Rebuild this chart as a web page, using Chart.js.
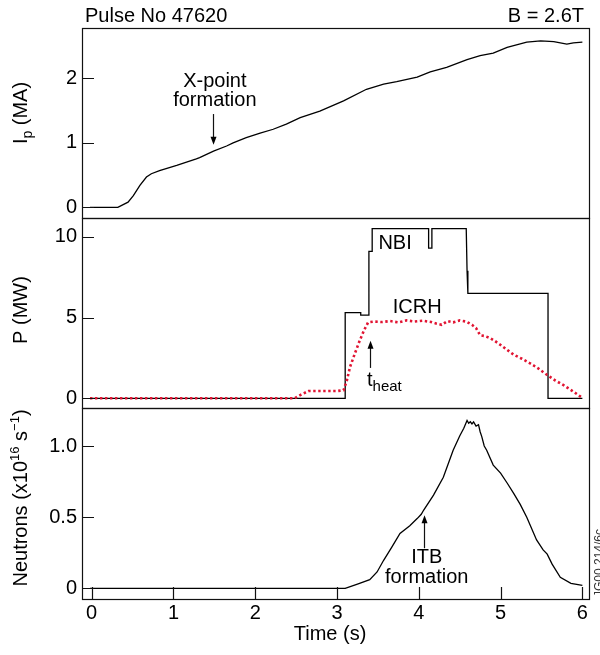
<!DOCTYPE html>
<html><head><meta charset="utf-8">
<script src="https://cdn.jsdelivr.net/npm/chart.js@4.4.1/dist/chart.umd.min.js"></script>
<style>
html,body{margin:0;padding:0;background:#fff;}
#wrap{position:relative;width:600px;height:655px;overflow:hidden;background:#fff;}
canvas{position:absolute;left:0;top:0;}
</style></head><body>
<div id="wrap">
<canvas id="c1" width="600" height="655"></canvas>
<canvas id="c2" width="600" height="655"></canvas>
<canvas id="c3" width="600" height="655"></canvas>
</div>
<script>
// ---------------- data ----------------
const ipTime  = [-0.02, 0.32, 0.445, 0.51, 0.59, 0.67, 0.73, 0.83, 0.91, 1.04, 1.16, 1.28, 1.32, 1.49, 1.65, 1.73, 1.89, 2.06, 2.22, 2.38, 2.55, 2.79, 3.08, 3.36, 3.57, 3.73, 3.98, 4.14, 4.34, 4.59, 4.75, 4.91, 5.08, 5.32, 5.49, 5.65, 5.81, 5.89, 6.0];
const ipValue = [0, 0, 0.08, 0.18, 0.34, 0.47, 0.52, 0.57, 0.6, 0.65, 0.70, 0.75, 0.77, 0.87, 0.95, 1.0, 1.08, 1.15, 1.21, 1.29, 1.39, 1.49, 1.65, 1.83, 1.91, 1.95, 2.02, 2.10, 2.17, 2.29, 2.35, 2.39, 2.48, 2.56, 2.58, 2.57, 2.53, 2.55, 2.56];

const nbiTime  = [-0.02, 3.1, 3.1, 3.29, 3.29, 3.39, 3.39, 3.43, 3.43, 4.12, 4.12, 4.16, 4.16, 4.58, 4.59, 4.60, 5.58, 5.58, 6.0];
const nbiPower = [0, 0, 5.3, 5.3, 5.15, 5.15, 9.1, 9.1, 10.5, 10.5, 9.3, 9.3, 10.5, 10.5, 7.9, 6.5, 6.5, 0, 0];

const icrhTime  = [-0.02, 2.48, 2.55, 2.65, 2.8, 3.0, 3.08, 3.12, 3.16, 3.22, 3.28, 3.33, 3.38, 3.45, 3.55, 3.65, 3.75, 3.85, 3.95, 4.05, 4.15, 4.22, 4.28, 4.35, 4.42, 4.5, 4.58, 4.65, 4.7, 4.75, 4.81, 4.87, 4.93, 5.0, 5.08, 5.16, 5.26, 5.36, 5.46, 5.57, 5.67, 5.77, 5.88, 6.0];
const icrhPower = [0, 0, 0.2, 0.45, 0.45, 0.45, 0.5, 1.1, 1.95, 2.8, 3.6, 4.2, 4.7, 4.75, 4.72, 4.78, 4.7, 4.82, 4.75, 4.8, 4.72, 4.62, 4.55, 4.78, 4.7, 4.82, 4.75, 4.55, 4.35, 3.9, 3.85, 3.73, 3.55, 3.3, 3.0, 2.7, 2.45, 2.17, 1.85, 1.44, 1.1, 0.81, 0.45, 0.02];

const neutronTime = [-0.02, 3.1, 3.25, 3.4, 3.49, 3.57, 3.67, 3.77, 3.89, 3.98, 4.03, 4.06, 4.18, 4.3, 4.42, 4.5, 4.55, 4.59, 4.61, 4.63, 4.65, 4.67, 4.7, 4.73, 4.75, 4.77, 4.8, 4.83, 4.91, 5.0, 5.08, 5.16, 5.24, 5.32, 5.44, 5.52, 5.57, 5.63, 5.73, 5.86, 6.0];
const neutronRate = [0, 0, 0.03, 0.061, 0.115, 0.197, 0.29, 0.385, 0.44, 0.49, 0.52, 0.55, 0.655, 0.78, 0.97, 1.07, 1.125, 1.18, 1.16, 1.17, 1.155, 1.17, 1.14, 1.15, 1.1, 1.066, 1.0, 0.97, 0.866, 0.81, 0.74, 0.667, 0.59, 0.50, 0.34, 0.27, 0.24, 0.17, 0.077, 0.035, 0.02];

const timeTicks = [0, 1, 2, 3, 4, 5, 6];
const timeTickLabels = ['0', '1', '2', '3', '4', '5', '6'];
const ipTicks = [0, 1, 2];
const ipTickLabels = ['0', '1', '2'];
const powerTicks = [0, 5, 10];
const powerTickLabels = ['0', '5', '10'];
const neutronTicks = [0, 0.5, 1.0];
const neutronTickLabels = ['0', '0.5', '1.0'];

// ---------------- drawing ----------------
const FONT = '"Liberation Sans", Arial, Helvetica, sans-serif';
const X_MIN = -0.118, X_MAX = 6.081;
const W = 600, H = 655;

function xy(ts, vs) { return ts.map((t, i) => ({ x: t, y: vs[i] })); }

function rich(ctx, segs, x, y, align) {
  let total = 0;
  segs.forEach(s => { ctx.font = s.size + 'px ' + FONT; s.w = ctx.measureText(s.t).width; total += s.w; });
  let cx = align === 'center' ? x - total / 2 : (align === 'right' ? x - total : x);
  ctx.textAlign = 'left'; ctx.textBaseline = 'alphabetic';
  segs.forEach(s => { ctx.font = s.size + 'px ' + FONT; ctx.fillText(s.t, cx, y + (s.dy || 0)); cx += s.w; });
}
function txt(ctx, t, x, y, size, align) { rich(ctx, [{ t: t, size: size }], x, y, align); }
function vtxt(ctx, segs, x, y) {
  ctx.save(); ctx.translate(x, y); ctx.rotate(-Math.PI / 2); rich(ctx, segs, 0, 0, 'center'); ctx.restore();
}
function arrow(ctx, x, y1, y2) {
  const dir = y2 > y1 ? 1 : -1;
  ctx.beginPath(); ctx.moveTo(x, y1); ctx.lineTo(x, y2 - dir * 6); ctx.lineWidth = 1.2; ctx.stroke();
  ctx.beginPath(); ctx.moveTo(x, y2); ctx.lineTo(x - 3, y2 - dir * 8); ctx.lineTo(x + 3, y2 - dir * 8); ctx.closePath(); ctx.fill();
}

function makePanel(id, top, bottom, yMin, yMax, yTicks, yLabels, datasets, showX, extra) {
  const xScale = {
    type: 'linear', min: X_MIN, max: X_MAX, display: showX,
    afterBuildTicks: s => { s.ticks = timeTicks.map(v => ({ value: v })); },
    ticks: { callback: (v, i) => timeTickLabels[i], font: { family: FONT, size: 20 }, color: '#000', padding: 2, maxRotation: 0, autoSkip: false },
    grid: { display: false, drawTicks: false }, border: { display: false }
  };
  if (showX) xScale.afterFit = s => { s.height = H - bottom; };
  return new Chart(document.getElementById(id), {
    type: 'line',
    data: { datasets: datasets },
    options: {
      responsive: false, animation: false, devicePixelRatio: 1, events: [],
      layout: { padding: { top: top, bottom: showX ? 0 : H - bottom, left: 0, right: W - 589 } },
      plugins: { legend: { display: false }, tooltip: { enabled: false } },
      elements: { point: { radius: 0 }, line: { tension: 0 } },
      scales: {
        x: xScale,
        y: {
          type: 'linear', min: yMin, max: yMax,
          afterFit: s => { s.width = 82; },
          afterBuildTicks: s => { s.ticks = yTicks.map(v => ({ value: v })); },
          ticks: { callback: (v, i) => yLabels[i], font: { family: FONT, size: 20 }, color: '#000', padding: 5 },
          grid: { display: false, drawTicks: false }, border: { display: false }
        }
      }
    },
    plugins: [{
      id: 'deco',
      afterDraw(chart) {
        const ctx = chart.ctx, a = chart.chartArea, x = chart.scales.x, y = chart.scales.y;
        ctx.save();
        ctx.strokeStyle = '#111'; ctx.fillStyle = '#000'; ctx.lineWidth = 1.2;
        ctx.strokeRect(a.left + 0.5, a.top + 0.5, a.right - a.left, a.bottom - a.top);
        ctx.beginPath();
        y.ticks.forEach(t => { const py = Math.round(y.getPixelForValue(t.value)) + 0.5; ctx.moveTo(a.left, py); ctx.lineTo(a.left + 12, py); });
        if (showX) x.ticks.forEach(t => { const px = Math.round(x.getPixelForValue(t.value)) + 0.5; ctx.moveTo(px, a.bottom); ctx.lineTo(px, a.bottom - 12); });
        ctx.stroke();
        extra(ctx, x, y);
        ctx.restore();
      }
    }]
  });
}

const black = (data) => ({ data: data, borderColor: '#000', borderWidth: 1.3, fill: false });

// Panel 1: plasma current
makePanel('c1', 28, 218, -0.166, 2.78, ipTicks, ipTickLabels, [black(xy(ipTime, ipValue))], false, (ctx, x, y) => {
  txt(ctx, 'Pulse No 47620', 85, 22, 20, 'left');
  txt(ctx, 'B = 2.6T', 584, 22, 20, 'right');
  vtxt(ctx, [{ t: 'I', size: 20 }, { t: 'p', size: 14, dy: 5 }, { t: ' (MA)', size: 20 }], 27, 113);
  const cx = x.getPixelForValue(1.506);
  txt(ctx, 'X-point', cx, y.getPixelForValue(1.86), 20, 'center');
  txt(ctx, 'formation', cx, y.getPixelForValue(1.57), 20, 'center');
  const ax = Math.round(x.getPixelForValue(1.482)) + 0.5;
  arrow(ctx, ax, y.getPixelForValue(1.446), y.getPixelForValue(0.97));
});

// Panel 2: heating power
makePanel('c2', 218, 408, -0.60, 11.16, powerTicks, powerTickLabels, [
  { data: xy(icrhTime, icrhPower), borderColor: 'rgb(225,20,50)', borderWidth: 2.6, borderDash: [2.4, 2.6], borderCapStyle: 'butt', fill: false },
  black(xy(nbiTime, nbiPower))
], false, (ctx, x, y) => {
  vtxt(ctx, [{ t: 'P (MW)', size: 20 }], 27, 310);
  txt(ctx, 'NBI', x.getPixelForValue(3.71), y.getPixelForValue(9.25), 20, 'center');
  txt(ctx, 'ICRH', x.getPixelForValue(3.98), y.getPixelForValue(5.31), 20, 'center');
  rich(ctx, [{ t: 't', size: 20 }, { t: 'heat', size: 15, dy: 5 }], x.getPixelForValue(3.367), y.getPixelForValue(0.75), 'left');
  const ax = Math.round(x.getPixelForValue(3.404)) + 0.5;
  arrow(ctx, ax, y.getPixelForValue(1.88), y.getPixelForValue(3.56));
});

// Panel 3: neutron rate
makePanel('c3', 408, 599, -0.075, 1.267, neutronTicks, neutronTickLabels, [black(xy(neutronTime, neutronRate))], true, (ctx, x, y) => {
  vtxt(ctx, [{ t: 'Neutrons (x10', size: 20 }, { t: '16', size: 13, dy: -8 }, { t: ' s', size: 20 }, { t: '\u22121', size: 13, dy: -8 }, { t: ')', size: 20 }], 27, 498);
  txt(ctx, 'Time (s)', 330, 640, 20, 'center');
  const cx = x.getPixelForValue(4.097);
  txt(ctx, 'ITB', cx, y.getPixelForValue(0.176), 20, 'center');
  txt(ctx, 'formation', cx, y.getPixelForValue(0.035), 20, 'center');
  const ax = Math.round(x.getPixelForValue(4.069)) + 0.5;
  arrow(ctx, ax, y.getPixelForValue(0.282), y.getPixelForValue(0.514));
  ctx.save(); ctx.fillStyle = '#333'; vtxt(ctx, [{ t: 'JG00.214/6c', size: 12 }], 603, 563); ctx.restore();
});
</script>
</body></html>
